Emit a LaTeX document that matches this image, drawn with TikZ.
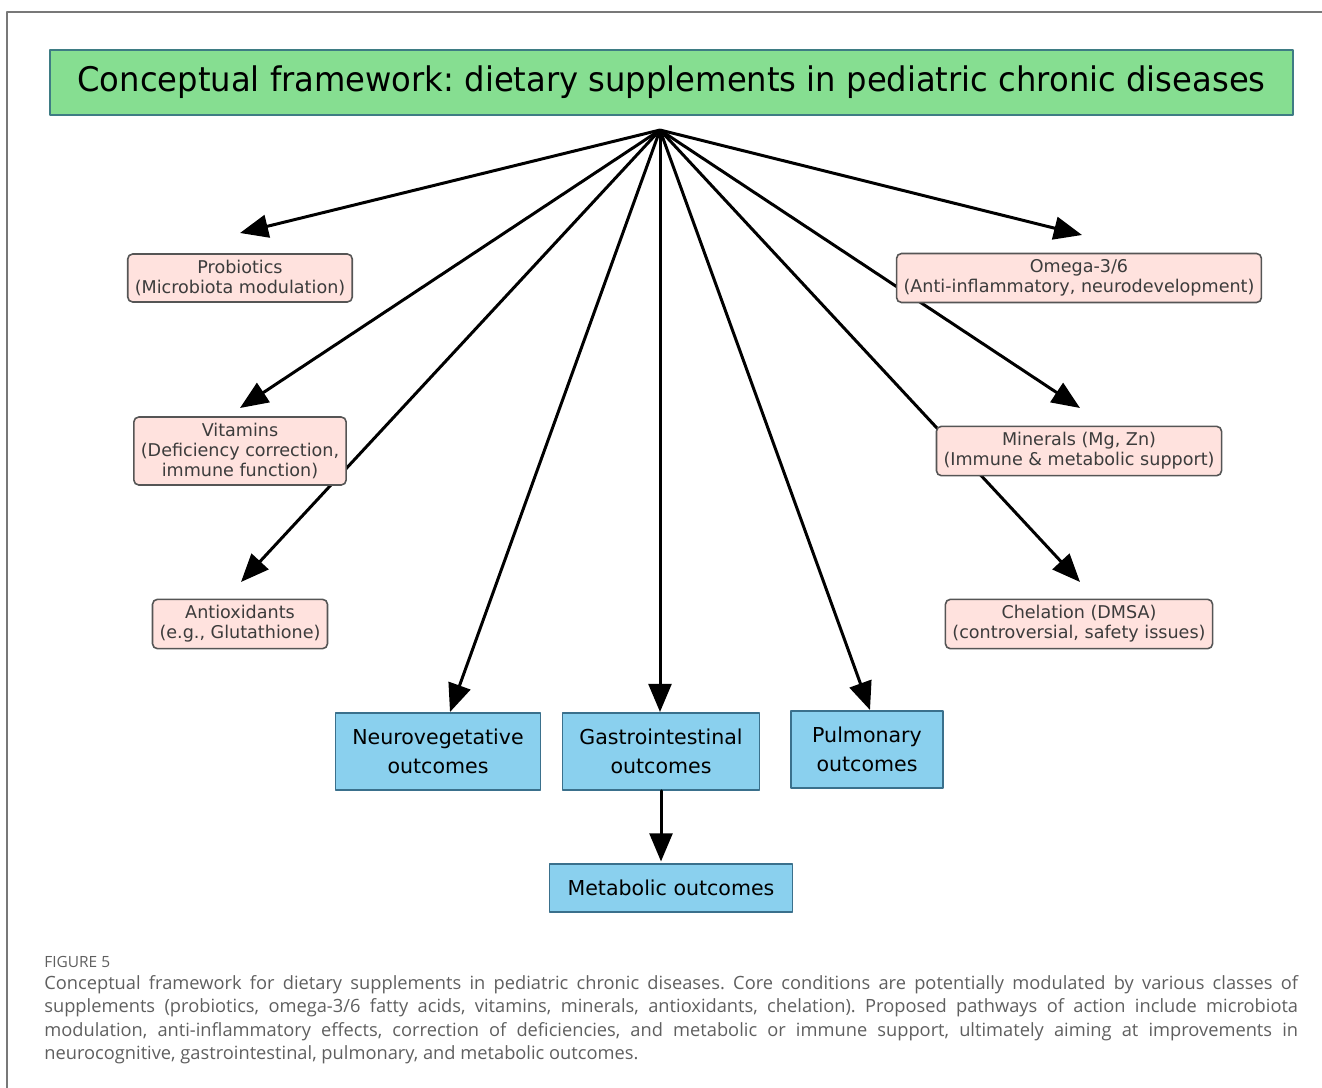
\documentclass[tikz,border=0pt]{standalone}
\usepackage{fontspec}
\setmainfont{DejaVu Sans}
\newfontfamily\titlefont{DejaVu Sans}[FakeStretch=0.95]
\newfontfamily\capfont{Open Sans}
\usetikzlibrary{arrows.meta,backgrounds}
\definecolor{titlegreen}{RGB}{134,222,145}
\definecolor{titleline}{RGB}{62,124,132}
\definecolor{supppink}{RGB}{255,226,222}
\definecolor{suppline}{RGB}{85,85,85}
\definecolor{supptext}{RGB}{60,60,60}
\definecolor{outcblue}{RGB}{138,208,238}
\definecolor{outcline}{RGB}{58,112,140}
\definecolor{framegray}{RGB}{120,120,120}
\definecolor{capgray}{RGB}{95,95,95}
\frenchspacing

\begin{document}
\begin{tikzpicture}[line cap=round,line join=round,x=0.02cm,y=-0.02cm,
		>={Triangle[length=16pt,width=13pt]},
		arr/.style={->,line width=1.7pt,color=black},
		supp/.style={draw=suppline,fill=supppink,line width=0.9pt,rounded corners=2.8pt,
			text=supptext,align=center,inner xsep=4pt,inner ysep=3.5pt,
			font=\fontsize{10}{11.4}\selectfont},
		outc/.style={draw=outcline,fill=outcblue,line width=0.9pt,align=center,
			font=\fontsize{11.7}{16.4}\selectfont}]
		\useasboundingbox (0,0) rectangle (1322,1088);
		\draw [line width=0.8pt,color=framegray] (7,1088) -- (7,12) -- (1322,12);
		% title
		\node[draw=titleline,fill=titlegreen,line width=1.2pt,minimum width=24.86cm,minimum height=1.3cm,
			font=\titlefont\fontsize{19.3}{23}\selectfont] (title) at (671.5,82.5)
			{Conceptual framework: dietary supplements in pediatric chronic diseases};
		\coordinate (apex) at (660,130);
		% supplements
		\node[supp] (prob) at (240,278) {Probiotics\\(Microbiota modulation)};
		\node[supp] (omega) at (1079,278) {Omega-3/6\\(Anti-inflammatory, neurodevelopment)};
		\node[supp] (vit) at (240,451) {Vitamins\\(Deficiency correction,\\immune function)};
		\node[supp] (miner) at (1079,451) {Minerals (Mg, Zn)\\(Immune \& metabolic support)};
		\node[supp] (antiox) at (240,624) {Antioxidants\\(e.g., Glutathione)};
		\node[supp] (chel) at (1079,624) {Chelation (DMSA)\\(controversial, safety issues)};
		% outcomes
		\node[outc,minimum width=4.1cm,minimum height=1.54cm] (neuro) at (438,751.5) {Neurovegetative\\outcomes};
		\node[outc,minimum width=3.94cm,minimum height=1.54cm] (gastro) at (661,751.5) {Gastrointestinal\\outcomes};
		\node[outc,minimum width=3.04cm,minimum height=1.54cm] (pulm) at (867,749.5) {Pulmonary\\outcomes};
		\node[outc,minimum width=4.86cm,minimum height=0.96cm] (metab) at (671,888) {Metabolic outcomes};
		% arrow ends
		\coordinate (probtip) at (240,233);
		\coordinate (omegatip) at (1082,235);
		\coordinate (vittip) at (240,408);
		\coordinate (minertip) at (1080,408);
		\coordinate (antioxtip) at (241,582);
		\coordinate (cheltip) at (1080,582);
		\coordinate (neurotip) at (450,712);
		\coordinate (gastrotip) at (660,712);
		\coordinate (pulmtip) at (870,710);
		\begin{scope}[on background layer]
			\foreach \t in {probtip,omegatip,vittip,minertip,antioxtip,cheltip,neurotip,gastrotip,pulmtip}
			\draw [arr] (apex) -- (\t);
		\end{scope}
		\draw [arr,shorten >=1pt] (gastro.south) -- (gastro.south |- metab.north);
		% caption
		\node[anchor=west,inner sep=0pt,text=capgray,font=\capfont\fontsize{8.8}{10}\selectfont] (figlabel) at (44,962) {FIGURE 5};
		\node[anchor=north west,inner sep=0pt,text width=25.08cm,align=justify,text=capgray,
			font=\capfont\fontsize{10.4}{13.4}\selectfont] (caption) at (44,975)
			{Conceptual framework for dietary supplements in pediatric chronic diseases. Core conditions are potentially modulated by various classes of\linebreak
			supplements (probiotics, omega-3/6 fatty acids, vitamins, minerals, antioxidants, chelation). Proposed pathways of action include microbiota\linebreak
			modulation, anti-inflammatory effects, correction of deficiencies, and metabolic or immune support, ultimately aiming at improvements in\linebreak
			neurocognitive, gastrointestinal, pulmonary, and metabolic outcomes.};
	\end{tikzpicture}
\end{document}
